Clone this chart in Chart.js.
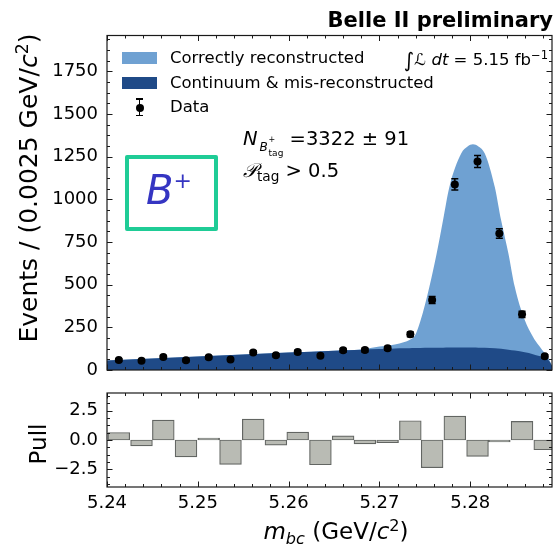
<!DOCTYPE html>
<html>
<head>
<meta charset="utf-8">
<script src="https://cdn.jsdelivr.net/npm/chart.js@4.4.0/dist/chart.umd.min.js"></script>
<style>
  body { margin: 0; background: #fff; font-family: 'DejaVu Sans', sans-serif; }
  #wrap { position: relative; width: 558px; height: 544px; overflow: hidden; }
  canvas { position: absolute; left: 0; }
  .t { position: absolute; white-space: nowrap; color: #000; line-height: 1; }
  .t sup { font-size: 70%; position: relative; top: -0.5em; vertical-align: baseline; }
  .t sub { font-size: 70%; position: relative; top: 0.3em; vertical-align: baseline; }
  .rot { transform: translate(-50%, -50%) rotate(-90deg); }
  .patch { position: absolute; width: 35px; height: 12px; }
</style>
</head>
<body>
<div id="wrap">
  <canvas id="main" width="558" height="380" style="top:0"></canvas>
  <canvas id="pull" width="558" height="164" style="top:380px"></canvas>

  <div class="t" style="right:5px; top:9.5px; font-weight:bold; font-size:21px;">Belle II preliminary</div>

  <!-- legend -->
  <div class="patch" style="left:122px; top:52px; background:#6fa1d2;"></div>
  <div class="patch" style="left:122px; top:77px; background:#1f4a87;"></div>
  <div style="position:absolute; left:138.5px; top:98px; width:1.5px; height:18px; background:#000;"></div>
  <div style="position:absolute; left:136px; top:98px; width:6.5px; height:1.5px; background:#000;"></div>
  <div style="position:absolute; left:136px; top:114.5px; width:6.5px; height:1.5px; background:#000;"></div>
  <div style="position:absolute; left:135.5px; top:103.5px; width:8px; height:8px; border-radius:50%; background:#000;"></div>
  <div class="t" style="left:170px; top:50px; font-size:16.5px;">Correctly reconstructed</div>
  <div class="t" style="left:170px; top:75px; font-size:16.5px;">Continuum &amp; mis-reconstructed</div>
  <div class="t" style="left:170px; top:99px; font-size:16.5px;">Data</div>

  <div class="t" style="right:10px; top:48px; font-size:16.5px;"><span style="font-size:20px; position:relative; top:2px;">∫</span><i>ℒ</i> <i>dt</i> = 5.15 fb<sup>−1</sup></div>

  <div class="t" style="left:243px; top:129px; font-size:19.5px;"><i>N</i><span style="display:inline-block; position:relative; width:32px; height:10px;"><i style="position:absolute; left:2px; top:6px; font-size:12px;">B</i><span style="position:absolute; left:11px; top:1px; font-size:8px;">+</span><span style="position:absolute; left:11px; top:14px; font-size:9px;">tag</span></span>=3322 ± 91</div>
  <div class="t" style="left:243px; top:161px; font-size:19.5px;"><i>𝒫</i><sub>tag</sub> &gt; 0.5</div>

  <div style="position:absolute; left:125px; top:155px; width:93px; height:76px; box-sizing:border-box; border:4.5px solid #1fcc96; border-radius:2px;"></div>
  <div class="t" style="left:146px; top:170px; font-size:40px; color:#3535c2;"><i>B</i><sup style="font-size:55%; top:-0.75em;">+</sup></div>

  <!-- axis titles -->
  <div class="t rot" style="left:28px; top:188px; font-size:25px;">Events / (0.0025 GeV/<i>c</i><sup>2</sup>)</div>
  <div class="t rot" style="left:38px; top:444px; font-size:23px;">Pull</div>
  <div class="t" style="left:336px; top:531px; transform:translate(-50%,-50%); font-size:23px;"><i>m</i><sub><i>bc</i></sub> (GeV/<i>c</i><sup>2</sup>)</div>
</div>

<script>
// bin centres of the m_bc histogram (GeV/c^2)
const binCenters = [5.2413, 5.2438, 5.2462, 5.2487, 5.2512, 5.2536, 5.2561, 5.2586, 5.2610, 5.2635,
                    5.2660, 5.2684, 5.2709, 5.2734, 5.2758, 5.2783, 5.2808, 5.2832, 5.2857, 5.2882];
const dataCounts = [58, 54, 76, 57, 74, 62, 103, 86, 105, 84, 115, 117, 127, 209, 410, 1087, 1222, 800, 326, 80];
const dataErrors = [8, 7, 9, 8, 9, 8, 10, 9, 10, 9, 11, 11, 11, 14, 20, 33, 35, 28, 18, 9];
const pullValues = [0.64, -0.50, 1.69, -1.44, 0.17, -2.08, 1.78, -0.44, 0.67, -2.11,
                    0.36, -0.33, -0.22, 1.64, -2.36, 2.03, -1.39, -0.17, 1.58, -0.83];

// fit curves
const curveX = [5.2400, 5.2450, 5.2500, 5.2550, 5.2600, 5.2650, 5.2680, 5.2700, 5.2712, 5.2722,
                5.2733, 5.2739, 5.2745, 5.2755, 5.2763, 5.2770, 5.2777, 5.2790, 5.2797, 5.2803,
                5.2809, 5.2816, 5.2827, 5.2834, 5.2842, 5.2849, 5.2860, 5.2869, 5.2876, 5.2882,
                5.2886, 5.2890];
const totalCurve = [55, 67, 79, 91, 102, 113, 120, 137, 145, 156,
                    176, 200, 285, 488, 683, 878, 1073, 1269, 1310, 1323,
                    1310, 1269, 1073, 878, 683, 488, 293, 195, 140, 98,
                    70, 25];
const continuumCurve = [55, 67, 79, 91, 102, 113, 119, 123, 125, 127,
                        128, 129, 129, 130, 131, 131, 132, 132, 132, 132,
                        131, 130, 127, 124, 119, 114, 104, 93, 82, 70,
                        58, 25];

// tick labels
const xTickValues = [5.24, 5.25, 5.26, 5.27, 5.28];
const mainYTickValues = [0, 250, 500, 750, 1000, 1250, 1500, 1750];
const pullYTickValues = [-2.5, 0, 2.5];

const mainYTicks = { major: 250, minor: 62.5 };
const pullYTicks = { major: 2.5, minor: 0.625 };
const xTicks = { major: 0.01, minor: 0.002 };

Chart.defaults.font.family = "'DejaVu Sans', sans-serif";
Chart.defaults.color = '#000';

const xy = (xs, ys) => xs.map((x, i) => ({ x: x, y: ys[i] }));
const fixedTicks = vals => s => { s.ticks = vals.map(v => ({ value: v })); };
// fixed axis size and no extra room for overhanging labels
const fitY = s => { s.width = 107; s.paddingTop = 0; s.paddingBottom = 0; };
const fitX = h => s => { s.height = h; s.paddingLeft = 0; s.paddingRight = 0; };

// matplotlib style frame with inward ticks on all four sides
const frameTicks = {
  id: 'frameTicks',
  afterDatasetsDraw(chart, args, o) {
    const { ctx, chartArea: a, scales } = chart;
    const xs = scales.x, ys = scales.y;
    ctx.save();
    ctx.strokeStyle = '#1a1a1a';
    ctx.lineWidth = 1;
    const xTick = (step, len) => {
      for (let n = Math.ceil(xs.min / step - 1e-6); n <= Math.floor(xs.max / step + 1e-6); n++) {
        const px = Math.round(xs.getPixelForValue(n * step)) + 0.5;
        ctx.beginPath();
        ctx.moveTo(px, a.bottom); ctx.lineTo(px, a.bottom - len);
        ctx.moveTo(px, a.top); ctx.lineTo(px, a.top + len);
        ctx.stroke();
      }
    };
    const yTick = (step, len) => {
      for (let n = Math.ceil(ys.min / step - 1e-6); n <= Math.floor(ys.max / step + 1e-6); n++) {
        const py = Math.round(ys.getPixelForValue(n * step)) + 0.5;
        ctx.beginPath();
        ctx.moveTo(a.left, py); ctx.lineTo(a.left + len, py);
        ctx.moveTo(a.right, py); ctx.lineTo(a.right - len, py);
        ctx.stroke();
      }
    };
    xTick(o.x.minor, 3); xTick(o.x.major, 5.5);
    yTick(o.y.minor, 3); yTick(o.y.major, 5.5);
    ctx.lineWidth = 1.2;
    ctx.strokeRect(a.left, a.top, a.right - a.left, a.bottom - a.top);
    ctx.restore();
  }
};

// vertical error bars for the data points
const errorBars = {
  id: 'errorBars',
  afterDatasetsDraw(chart) {
    const { ctx, scales } = chart;
    ctx.save();
    ctx.strokeStyle = '#000';
    ctx.lineWidth = 1.5;
    binCenters.forEach((x, i) => {
      const px = scales.x.getPixelForValue(x);
      const lo = scales.y.getPixelForValue(dataCounts[i] - dataErrors[i]);
      const hi = scales.y.getPixelForValue(dataCounts[i] + dataErrors[i]);
      ctx.beginPath();
      ctx.moveTo(px, lo); ctx.lineTo(px, hi);
      ctx.moveTo(px - 3.5, lo); ctx.lineTo(px + 3.5, lo);
      ctx.moveTo(px - 3.5, hi); ctx.lineTo(px + 3.5, hi);
      ctx.stroke();
    });
    ctx.restore();
  }
};

new Chart(document.getElementById('main'), {
  type: 'line',
  data: {
    datasets: [
      { label: 'Data', data: xy(binCenters, dataCounts), showLine: false, order: 0,
        pointRadius: 4, pointBackgroundColor: '#000', pointBorderWidth: 0 },
      { label: 'Continuum & mis-reconstructed', data: xy(curveX, continuumCurve), order: 1,
        fill: 'origin', backgroundColor: '#1f4a87', borderWidth: 0, pointRadius: 0,
        cubicInterpolationMode: 'monotone' },
      { label: 'Correctly reconstructed', data: xy(curveX, totalCurve), order: 2,
        fill: 'origin', backgroundColor: '#6fa1d2', borderWidth: 0, pointRadius: 0,
        cubicInterpolationMode: 'monotone' }
    ]
  },
  options: {
    responsive: false,
    animation: false,
    layout: { padding: { top: 35.5, right: 6, bottom: 10, left: 0 } },
    plugins: {
      legend: { display: false },
      tooltip: { enabled: false },
      frameTicks: { x: xTicks, y: mainYTicks }
    },
    scales: {
      x: { type: 'linear', min: 5.24, max: 5.289, display: false, offset: false },
      y: {
        min: 0, max: 1960,
        grid: { display: false, drawTicks: false },
        border: { display: false },
        afterBuildTicks: fixedTicks(mainYTickValues),
        ticks: { padding: 9, font: { size: 18 }, callback: v => String(v) },
        afterFit: fitY
      }
    }
  },
  plugins: [errorBars, frameTicks]
});

new Chart(document.getElementById('pull'), {
  type: 'bar',
  data: {
    datasets: [{
      label: 'Pull',
      data: xy(binCenters, pullValues),
      backgroundColor: '#b9bbb4',
      borderColor: 'rgba(70,74,70,0.85)',
      borderWidth: 1.2,
      borderSkipped: false,
      barPercentage: 1,
      categoryPercentage: 1
    }]
  },
  options: {
    responsive: false,
    animation: false,
    layout: { padding: { top: 13, right: 6, bottom: 0, left: 0 } },
    plugins: {
      legend: { display: false },
      tooltip: { enabled: false },
      frameTicks: { x: xTicks, y: pullYTicks }
    },
    scales: {
      x: {
        type: 'linear', min: 5.24, max: 5.289, offset: false,
        grid: { display: false, drawTicks: false, offset: false },
        border: { display: false },
        afterBuildTicks: fixedTicks(xTickValues),
        ticks: { padding: 6, maxRotation: 0, font: { size: 18 }, callback: v => v.toFixed(2) },
        afterFit: fitX(57)
      },
      y: {
        min: -4, max: 4,
        grid: { display: false, drawTicks: false },
        border: { display: false },
        afterBuildTicks: fixedTicks(pullYTickValues),
        ticks: { padding: 9, font: { size: 18 }, callback: v => v.toFixed(1).replace('-', '\u2212') },
        afterFit: fitY
      }
    }
  },
  plugins: [frameTicks]
});
</script>
</body>
</html>
